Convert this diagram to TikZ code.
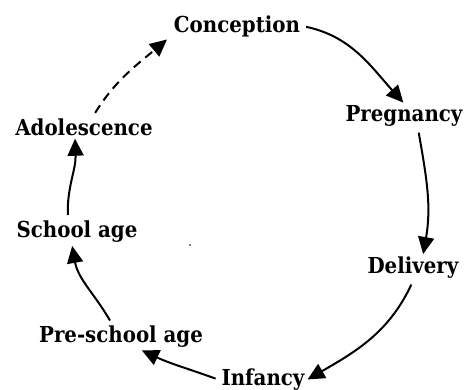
\documentclass[tikz,border=0pt]{standalone}
\usepackage{fontspec}
\setmainfont{DejaVu Serif Condensed}
\usetikzlibrary{arrows.meta}
\begin{document}
\begin{tikzpicture}[x=1pt,y=1pt,
  lbl/.style={font=\bfseries\fontsize{22}{25}\selectfont, inner sep=2pt},
  arr/.style={line width=2pt, -{Triangle[length=17pt,width=16pt]}, shorten <=4pt, shorten >=1pt}]
\useasboundingbox (0,0) rectangle (464,-390);
\node[lbl] (conc) at (237,-26) {Conception};
\node[lbl] (preg) at (404,-116) {Pregnancy};
\node[lbl] (deliv) at (413,-268) {Delivery};
\node[lbl] (inf) at (263,-380) {Infancy};
\node[lbl] (pre) at (121,-337) {Pre-school age};
\node[lbl] (sch) at (77,-232) {School age};
\node[lbl] (ado) at (84,-127) {Adolescence};
\fill (190,-245) circle (0.9pt);
\draw[arr] (conc.east) to[out=-12,in=132] (preg.north);
\draw[arr] ([xshift=14pt]preg.south) to[out=-80,in=80] ([xshift=10pt]deliv.north);
\draw[arr] (deliv.south) to[out=-115,in=30] (inf.east);
\draw[arr] (inf.west) to[out=160,in=-25] ([xshift=20pt]pre.south);
\draw[arr] ([xshift=-9pt]pre.north) to[out=120,in=-80] ([xshift=-5pt]sch.south);
\draw[arr] ([xshift=-9pt]sch.north) to[out=92,in=-88] ([xshift=-9pt]ado.south);
\draw[arr, dash pattern=on 9pt off 6pt] ([xshift=9pt]ado.north) to[out=58,in=-140] ([xshift=-4pt]conc.south west);
\end{tikzpicture}
\end{document}
